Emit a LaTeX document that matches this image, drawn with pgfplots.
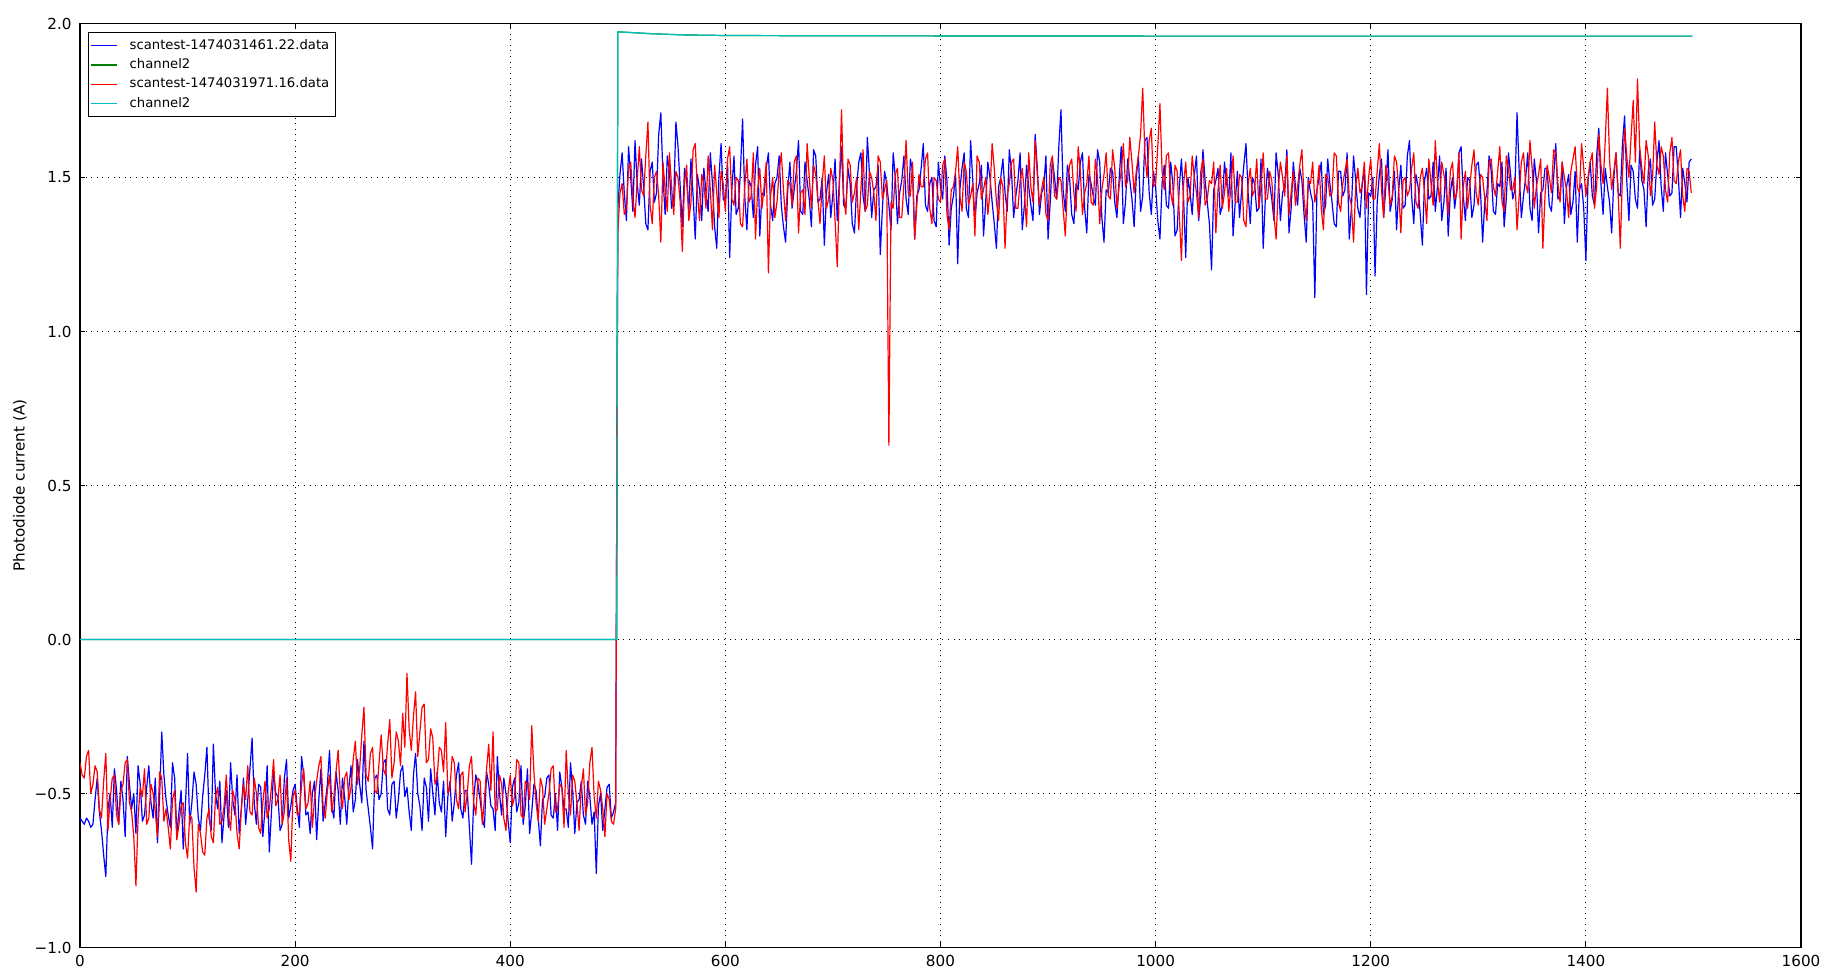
\documentclass[border=0pt]{standalone}
\usepackage{fontspec}
\setmainfont{DejaVu Sans}
\usepackage{pgfplots}
\pgfplotsset{compat=1.18}
\definecolor{mplblue}{rgb}{0,0,1}
\definecolor{mplgreen}{rgb}{0,0.5,0}
\definecolor{mplred}{rgb}{1,0,0}
\definecolor{mplcyan}{rgb}{0,0.75,0.75}
\newcommand{\tickfont}{\fontsize{7.6}{9}\selectfont}
\begin{document}
\begin{tikzpicture}
\begin{axis}[
  scale only axis, width=860.5pt, height=462pt,
  xmin=0, xmax=1600, ymin=-1, ymax=2,
  xtick={0,200,400,600,800,1000,1200,1400,1600},
  xticklabels={0,200,400,600,800,1000,1200,1400,1600},
  ytick={-1,-0.5,0,0.5,1,1.5,2},
  yticklabels={−1.0,−0.5,0.0,0.5,1.0,1.5,2.0},
  tick align=inside, major tick length=2.5pt,
  tick style={black, line width=0.5pt},
  axis line style={black, line width=0.6pt},
  grid=major,
  major grid style={black, line width=0.4pt, dash pattern=on 0.5pt off 2.3pt},
  xticklabel style={font=\tickfont, inner sep=0pt, yshift=-3.5pt},
  yticklabel style={font=\tickfont, inner sep=0pt, xshift=-4pt},
  ylabel={Photodiode current (A)},
  every axis y label/.style={at={(axis description cs:-0.0349,0.5)}, anchor=center, rotate=90, font=\tickfont},
  legend style={at={(rel axis cs:0,1)}, anchor=north west, xshift=4pt, yshift=-4.5pt,
    draw=black, line width=0.5pt, font=\fontsize{6.6}{7.9}\selectfont, inner xsep=1pt, inner ysep=1.5pt,
    row sep=0pt, nodes={text height=5pt, text depth=1.5pt, inner ysep=1.6pt}},
  legend cell align=left,
  legend image code/.code={\draw[#1, line width=0.6pt] (0pt,0pt) -- (13pt,0pt); \path (17pt,0pt);},
  legend entries={scantest-1474031461.22.data, channel2, scantest-1474031971.16.data, channel2},
  every axis plot/.append style={line width=0.6pt, line join=round, mark=none},
]
% blue: scantest-1474031461.22.data (every 2nd sample)
\addplot[color=mplblue] table[row sep=\\, header=false, x expr=\coordindex*2, y index=0] {
-0.58\\ -0.59\\ -0.60\\ -0.58\\ -0.59\\ -0.61\\ -0.60\\ -0.52\\ -0.45\\ -0.56\\
-0.62\\ -0.70\\ -0.77\\ -0.55\\ -0.50\\ -0.61\\ -0.42\\ -0.49\\ -0.60\\ -0.46\\
-0.52\\ -0.64\\ -0.38\\ -0.47\\ -0.55\\ -0.50\\ -0.63\\ -0.41\\ -0.47\\ -0.59\\
-0.57\\ -0.48\\ -0.41\\ -0.53\\ -0.58\\ -0.45\\ -0.66\\ -0.51\\ -0.30\\ -0.44\\
-0.52\\ -0.57\\ -0.61\\ -0.40\\ -0.45\\ -0.63\\ -0.56\\ -0.49\\ -0.68\\ -0.54\\
-0.37\\ -0.60\\ -0.53\\ -0.43\\ -0.47\\ -0.58\\ -0.62\\ -0.51\\ -0.44\\ -0.35\\
-0.58\\ -0.62\\ -0.34\\ -0.50\\ -0.55\\ -0.46\\ -0.66\\ -0.57\\ -0.49\\ -0.61\\
-0.40\\ -0.52\\ -0.57\\ -0.44\\ -0.63\\ -0.55\\ -0.45\\ -0.60\\ -0.52\\ -0.42\\
-0.32\\ -0.53\\ -0.60\\ -0.47\\ -0.48\\ -0.64\\ -0.55\\ -0.41\\ -0.69\\ -0.56\\
-0.43\\ -0.50\\ -0.51\\ -0.62\\ -0.60\\ -0.45\\ -0.39\\ -0.58\\ -0.54\\ -0.49\\
-0.47\\ -0.55\\ -0.61\\ -0.38\\ -0.44\\ -0.57\\ -0.56\\ -0.63\\ -0.50\\ -0.46\\
-0.65\\ -0.52\\ -0.42\\ -0.59\\ -0.53\\ -0.47\\ -0.36\\ -0.54\\ -0.58\\ -0.43\\
-0.49\\ -0.60\\ -0.45\\ -0.51\\ -0.60\\ -0.48\\ -0.41\\ -0.56\\ -0.52\\ -0.39\\
-0.47\\ -0.53\\ -0.33\\ -0.49\\ -0.55\\ -0.61\\ -0.68\\ -0.45\\ -0.44\\ -0.52\\
-0.50\\ -0.40\\ -0.39\\ -0.55\\ -0.57\\ -0.47\\ -0.46\\ -0.58\\ -0.52\\ -0.43\\
-0.41\\ -0.51\\ -0.48\\ -0.56\\ -0.62\\ -0.44\\ -0.37\\ -0.50\\ -0.54\\ -0.62\\
-0.45\\ -0.48\\ -0.59\\ -0.42\\ -0.50\\ -0.57\\ -0.43\\ -0.53\\ -0.56\\ -0.46\\
-0.64\\ -0.51\\ -0.46\\ -0.59\\ -0.53\\ -0.44\\ -0.40\\ -0.55\\ -0.58\\ -0.49\\
-0.49\\ -0.61\\ -0.73\\ -0.52\\ -0.44\\ -0.47\\ -0.52\\ -0.58\\ -0.61\\ -0.43\\
-0.47\\ -0.54\\ -0.55\\ -0.62\\ -0.38\\ -0.50\\ -0.57\\ -0.45\\ -0.50\\ -0.59\\
-0.66\\ -0.48\\ -0.45\\ -0.56\\ -0.53\\ -0.41\\ -0.60\\ -0.54\\ -0.42\\ -0.63\\
-0.56\\ -0.47\\ -0.49\\ -0.58\\ -0.67\\ -0.52\\ -0.51\\ -0.45\\ -0.44\\ -0.57\\
-0.58\\ -0.50\\ -0.62\\ -0.43\\ -0.48\\ -0.55\\ -0.55\\ -0.61\\ -0.40\\ -0.49\\
-0.63\\ -0.53\\ -0.52\\ -0.46\\ -0.57\\ -0.60\\ -0.46\\ -0.51\\ -0.60\\ -0.56\\
-0.76\\ -0.54\\ -0.50\\ -0.62\\ -0.55\\ -0.48\\ -0.47\\ -0.58\\ -0.56\\ -0.53\\
1.40\\ 1.51\\ 1.58\\ 1.45\\ 1.36\\ 1.60\\ 1.50\\ 1.39\\ 1.62\\ 1.48\\
1.41\\ 1.56\\ 1.47\\ 1.35\\ 1.33\\ 1.52\\ 1.55\\ 1.42\\ 1.45\\ 1.64\\
1.71\\ 1.50\\ 1.38\\ 1.57\\ 1.52\\ 1.40\\ 1.43\\ 1.68\\ 1.60\\ 1.47\\
1.34\\ 1.53\\ 1.49\\ 1.39\\ 1.56\\ 1.44\\ 1.30\\ 1.51\\ 1.46\\ 1.36\\
1.53\\ 1.45\\ 1.39\\ 1.58\\ 1.48\\ 1.34\\ 1.27\\ 1.50\\ 1.61\\ 1.43\\
1.42\\ 1.55\\ 1.24\\ 1.46\\ 1.57\\ 1.38\\ 1.40\\ 1.52\\ 1.69\\ 1.44\\
1.33\\ 1.49\\ 1.47\\ 1.37\\ 1.54\\ 1.60\\ 1.31\\ 1.45\\ 1.44\\ 1.53\\
1.58\\ 1.41\\ 1.36\\ 1.48\\ 1.50\\ 1.57\\ 1.41\\ 1.34\\ 1.29\\ 1.46\\
1.55\\ 1.40\\ 1.46\\ 1.52\\ 1.62\\ 1.39\\ 1.38\\ 1.55\\ 1.49\\ 1.43\\
1.34\\ 1.59\\ 1.57\\ 1.42\\ 1.43\\ 1.50\\ 1.28\\ 1.45\\ 1.51\\ 1.37\\
1.45\\ 1.56\\ 1.36\\ 1.49\\ 1.60\\ 1.41\\ 1.40\\ 1.53\\ 1.48\\ 1.35\\
1.32\\ 1.47\\ 1.55\\ 1.58\\ 1.44\\ 1.39\\ 1.63\\ 1.51\\ 1.37\\ 1.46\\
1.47\\ 1.54\\ 1.25\\ 1.40\\ 1.52\\ 1.48\\ 1.41\\ 1.33\\ 1.58\\ 1.50\\
1.35\\ 1.45\\ 1.49\\ 1.57\\ 1.43\\ 1.38\\ 1.56\\ 1.52\\ 1.30\\ 1.44\\
1.46\\ 1.53\\ 1.61\\ 1.41\\ 1.39\\ 1.48\\ 1.50\\ 1.36\\ 1.34\\ 1.55\\
1.47\\ 1.43\\ 1.57\\ 1.49\\ 1.28\\ 1.40\\ 1.44\\ 1.51\\ 1.22\\ 1.46\\
1.53\\ 1.58\\ 1.40\\ 1.37\\ 1.62\\ 1.49\\ 1.36\\ 1.45\\ 1.48\\ 1.54\\
1.31\\ 1.42\\ 1.55\\ 1.50\\ 1.42\\ 1.35\\ 1.27\\ 1.47\\ 1.50\\ 1.56\\
1.45\\ 1.39\\ 1.59\\ 1.52\\ 1.37\\ 1.44\\ 1.49\\ 1.58\\ 1.33\\ 1.41\\
1.54\\ 1.47\\ 1.41\\ 1.36\\ 1.64\\ 1.53\\ 1.38\\ 1.45\\ 1.47\\ 1.57\\
1.30\\ 1.42\\ 1.56\\ 1.50\\ 1.43\\ 1.60\\ 1.72\\ 1.46\\ 1.39\\ 1.54\\
1.50\\ 1.38\\ 1.35\\ 1.48\\ 1.46\\ 1.55\\ 1.58\\ 1.40\\ 1.32\\ 1.51\\
1.48\\ 1.44\\ 1.41\\ 1.59\\ 1.55\\ 1.37\\ 1.29\\ 1.46\\ 1.45\\ 1.53\\
1.52\\ 1.42\\ 1.37\\ 1.49\\ 1.60\\ 1.35\\ 1.42\\ 1.56\\ 1.49\\ 1.43\\
1.34\\ 1.50\\ 1.57\\ 1.39\\ 1.44\\ 1.62\\ 1.63\\ 1.45\\ 1.38\\ 1.52\\
1.47\\ 1.36\\ 1.30\\ 1.48\\ 1.54\\ 1.41\\ 1.40\\ 1.55\\ 1.48\\ 1.31\\
1.33\\ 1.47\\ 1.56\\ 1.43\\ 1.24\\ 1.50\\ 1.45\\ 1.38\\ 1.51\\ 1.57\\
1.36\\ 1.44\\ 1.59\\ 1.49\\ 1.42\\ 1.35\\ 1.20\\ 1.46\\ 1.49\\ 1.53\\
1.38\\ 1.41\\ 1.55\\ 1.48\\ 1.44\\ 1.58\\ 1.31\\ 1.42\\ 1.52\\ 1.37\\
1.46\\ 1.54\\ 1.61\\ 1.45\\ 1.35\\ 1.50\\ 1.48\\ 1.39\\ 1.40\\ 1.56\\
1.27\\ 1.43\\ 1.53\\ 1.48\\ 1.43\\ 1.36\\ 1.58\\ 1.51\\ 1.36\\ 1.45\\
1.47\\ 1.59\\ 1.32\\ 1.40\\ 1.55\\ 1.47\\ 1.41\\ 1.53\\ 1.49\\ 1.38\\
1.29\\ 1.50\\ 1.45\\ 1.42\\ 1.11\\ 1.46\\ 1.50\\ 1.55\\ 1.38\\ 1.41\\
1.56\\ 1.48\\ 1.42\\ 1.35\\ 1.34\\ 1.52\\ 1.52\\ 1.44\\ 1.46\\ 1.58\\
1.30\\ 1.40\\ 1.57\\ 1.49\\ 1.40\\ 1.37\\ 1.48\\ 1.53\\ 1.12\\ 1.45\\
1.44\\ 1.50\\ 1.18\\ 1.42\\ 1.51\\ 1.56\\ 1.37\\ 1.47\\ 1.59\\ 1.39\\
1.43\\ 1.52\\ 1.33\\ 1.46\\ 1.54\\ 1.40\\ 1.41\\ 1.57\\ 1.62\\ 1.44\\
1.35\\ 1.51\\ 1.47\\ 1.38\\ 1.28\\ 1.49\\ 1.53\\ 1.43\\ 1.44\\ 1.55\\
1.39\\ 1.47\\ 1.57\\ 1.36\\ 1.42\\ 1.53\\ 1.31\\ 1.45\\ 1.50\\ 1.40\\
1.46\\ 1.58\\ 1.60\\ 1.44\\ 1.36\\ 1.50\\ 1.49\\ 1.37\\ 1.41\\ 1.54\\
1.55\\ 1.46\\ 1.29\\ 1.42\\ 1.45\\ 1.57\\ 1.52\\ 1.39\\ 1.38\\ 1.48\\
1.47\\ 1.55\\ 1.34\\ 1.43\\ 1.58\\ 1.51\\ 1.43\\ 1.46\\ 1.71\\ 1.52\\
1.37\\ 1.44\\ 1.50\\ 1.58\\ 1.40\\ 1.36\\ 1.56\\ 1.49\\ 1.32\\ 1.45\\
1.46\\ 1.53\\ 1.53\\ 1.41\\ 1.39\\ 1.50\\ 1.61\\ 1.43\\ 1.44\\ 1.55\\
1.35\\ 1.47\\ 1.51\\ 1.38\\ 1.42\\ 1.52\\ 1.29\\ 1.46\\ 1.48\\ 1.40\\
1.23\\ 1.49\\ 1.55\\ 1.44\\ 1.41\\ 1.57\\ 1.66\\ 1.48\\ 1.38\\ 1.53\\
1.47\\ 1.42\\ 1.32\\ 1.50\\ 1.58\\ 1.45\\ 1.44\\ 1.61\\ 1.70\\ 1.49\\
1.36\\ 1.54\\ 1.52\\ 1.43\\ 1.40\\ 1.59\\ 1.49\\ 1.46\\ 1.34\\ 1.52\\
1.56\\ 1.41\\ 1.43\\ 1.55\\ 1.62\\ 1.47\\ 1.39\\ 1.58\\ 1.51\\ 1.44\\
1.45\\ 1.60\\ 1.60\\ 1.50\\ 1.37\\ 1.53\\ 1.48\\ 1.42\\ 1.55\\ 1.56\\
};
% green: channel2
\addplot[color=mplgreen] coordinates {(0,0) (499,0) (500,1.973) (510,1.971) (530,1.967) (560,1.963) (600,1.961) (700,1.960) (1000,1.959) (1499,1.959)};
% red: scantest-1474031971.16.data (every 2nd sample)
\addplot[color=mplred] table[row sep=\\, header=false, x expr=\coordindex*2, y index=0] {
-0.40\\ -0.44\\ -0.45\\ -0.38\\ -0.36\\ -0.50\\ -0.47\\ -0.41\\ -0.43\\ -0.55\\
-0.58\\ -0.46\\ -0.37\\ -0.62\\ -0.52\\ -0.45\\ -0.44\\ -0.57\\ -0.60\\ -0.49\\
-0.47\\ -0.40\\ -0.39\\ -0.53\\ -0.56\\ -0.64\\ -0.80\\ -0.58\\ -0.48\\ -0.51\\
-0.42\\ -0.60\\ -0.58\\ -0.47\\ -0.50\\ -0.56\\ -0.64\\ -0.43\\ -0.45\\ -0.59\\
-0.55\\ -0.61\\ -0.68\\ -0.52\\ -0.49\\ -0.65\\ -0.60\\ -0.54\\ -0.53\\ -0.66\\
-0.71\\ -0.57\\ -0.58\\ -0.74\\ -0.82\\ -0.60\\ -0.63\\ -0.69\\ -0.70\\ -0.58\\
-0.55\\ -0.64\\ -0.66\\ -0.51\\ -0.48\\ -0.60\\ -0.59\\ -0.54\\ -0.44\\ -0.57\\
-0.62\\ -0.49\\ -0.52\\ -0.63\\ -0.68\\ -0.55\\ -0.47\\ -0.52\\ -0.41\\ -0.56\\
-0.57\\ -0.45\\ -0.50\\ -0.61\\ -0.63\\ -0.53\\ -0.46\\ -0.58\\ -0.55\\ -0.48\\
-0.39\\ -0.54\\ -0.52\\ -0.44\\ -0.60\\ -0.56\\ -0.45\\ -0.65\\ -0.72\\ -0.51\\
-0.49\\ -0.57\\ -0.56\\ -0.47\\ -0.42\\ -0.55\\ -0.53\\ -0.46\\ -0.61\\ -0.52\\
-0.46\\ -0.41\\ -0.38\\ -0.54\\ -0.58\\ -0.49\\ -0.44\\ -0.56\\ -0.51\\ -0.43\\
-0.36\\ -0.50\\ -0.55\\ -0.45\\ -0.43\\ -0.52\\ -0.48\\ -0.39\\ -0.33\\ -0.47\\
-0.42\\ -0.31\\ -0.22\\ -0.44\\ -0.46\\ -0.37\\ -0.35\\ -0.49\\ -0.50\\ -0.40\\
-0.31\\ -0.42\\ -0.44\\ -0.34\\ -0.26\\ -0.45\\ -0.40\\ -0.30\\ -0.33\\ -0.41\\
-0.24\\ -0.35\\ -0.11\\ -0.29\\ -0.36\\ -0.25\\ -0.17\\ -0.38\\ -0.30\\ -0.22\\
-0.21\\ -0.40\\ -0.39\\ -0.29\\ -0.32\\ -0.47\\ -0.45\\ -0.35\\ -0.36\\ -0.43\\
-0.27\\ -0.50\\ -0.48\\ -0.38\\ -0.40\\ -0.52\\ -0.55\\ -0.44\\ -0.43\\ -0.56\\
-0.50\\ -0.41\\ -0.38\\ -0.53\\ -0.57\\ -0.45\\ -0.46\\ -0.60\\ -0.52\\ -0.42\\
-0.34\\ -0.49\\ -0.30\\ -0.56\\ -0.55\\ -0.44\\ -0.47\\ -0.58\\ -0.62\\ -0.50\\
-0.44\\ -0.54\\ -0.51\\ -0.39\\ -0.40\\ -0.57\\ -0.58\\ -0.46\\ -0.47\\ -0.52\\
-0.28\\ -0.43\\ -0.53\\ -0.59\\ -0.45\\ -0.48\\ -0.60\\ -0.55\\ -0.50\\ -0.42\\
-0.41\\ -0.56\\ -0.55\\ -0.47\\ -0.48\\ -0.61\\ -0.36\\ -0.50\\ -0.57\\ -0.44\\
-0.46\\ -0.53\\ -0.62\\ -0.48\\ -0.42\\ -0.57\\ -0.53\\ -0.40\\ -0.35\\ -0.51\\
-0.58\\ -0.46\\ -0.49\\ -0.55\\ -0.64\\ -0.50\\ -0.52\\ -0.59\\ -0.60\\ -0.55\\
1.32\\ 1.45\\ 1.48\\ 1.38\\ 1.40\\ 1.53\\ 1.55\\ 1.43\\ 1.37\\ 1.49\\
1.60\\ 1.46\\ 1.44\\ 1.57\\ 1.68\\ 1.41\\ 1.35\\ 1.50\\ 1.52\\ 1.44\\
1.29\\ 1.55\\ 1.46\\ 1.39\\ 1.58\\ 1.47\\ 1.38\\ 1.52\\ 1.50\\ 1.42\\
1.26\\ 1.48\\ 1.54\\ 1.36\\ 1.42\\ 1.59\\ 1.61\\ 1.45\\ 1.36\\ 1.51\\
1.48\\ 1.40\\ 1.57\\ 1.46\\ 1.33\\ 1.54\\ 1.45\\ 1.37\\ 1.52\\ 1.48\\
1.39\\ 1.56\\ 1.60\\ 1.43\\ 1.41\\ 1.50\\ 1.49\\ 1.35\\ 1.34\\ 1.47\\
1.56\\ 1.42\\ 1.44\\ 1.58\\ 1.30\\ 1.46\\ 1.53\\ 1.40\\ 1.47\\ 1.55\\
1.19\\ 1.44\\ 1.50\\ 1.37\\ 1.42\\ 1.52\\ 1.58\\ 1.46\\ 1.36\\ 1.49\\
1.48\\ 1.41\\ 1.55\\ 1.57\\ 1.32\\ 1.45\\ 1.46\\ 1.38\\ 1.61\\ 1.50\\
1.40\\ 1.54\\ 1.51\\ 1.43\\ 1.35\\ 1.48\\ 1.57\\ 1.40\\ 1.43\\ 1.53\\
1.49\\ 1.36\\ 1.21\\ 1.47\\ 1.72\\ 1.44\\ 1.38\\ 1.56\\ 1.54\\ 1.42\\
1.45\\ 1.50\\ 1.33\\ 1.46\\ 1.59\\ 1.39\\ 1.41\\ 1.52\\ 1.50\\ 1.45\\
1.36\\ 1.57\\ 1.55\\ 1.43\\ 1.46\\ 1.49\\ 0.63\\ 1.42\\ 1.40\\ 1.51\\
1.53\\ 1.37\\ 1.37\\ 1.48\\ 1.62\\ 1.45\\ 1.44\\ 1.55\\ 1.30\\ 1.41\\
1.51\\ 1.47\\ 1.47\\ 1.56\\ 1.58\\ 1.40\\ 1.35\\ 1.50\\ 1.49\\ 1.43\\
1.42\\ 1.54\\ 1.56\\ 1.38\\ 1.33\\ 1.46\\ 1.47\\ 1.52\\ 1.60\\ 1.44\\
1.39\\ 1.55\\ 1.52\\ 1.41\\ 1.44\\ 1.48\\ 1.31\\ 1.57\\ 1.55\\ 1.43\\
1.46\\ 1.50\\ 1.38\\ 1.45\\ 1.61\\ 1.53\\ 1.42\\ 1.36\\ 1.50\\ 1.47\\
1.27\\ 1.44\\ 1.48\\ 1.55\\ 1.56\\ 1.40\\ 1.40\\ 1.49\\ 1.53\\ 1.45\\
1.34\\ 1.58\\ 1.47\\ 1.42\\ 1.62\\ 1.51\\ 1.41\\ 1.46\\ 1.50\\ 1.38\\
1.36\\ 1.54\\ 1.57\\ 1.44\\ 1.43\\ 1.50\\ 1.49\\ 1.40\\ 1.31\\ 1.47\\
1.54\\ 1.56\\ 1.45\\ 1.39\\ 1.60\\ 1.52\\ 1.38\\ 1.45\\ 1.48\\ 1.57\\
1.42\\ 1.41\\ 1.56\\ 1.50\\ 1.35\\ 1.46\\ 1.51\\ 1.58\\ 1.44\\ 1.43\\
1.59\\ 1.53\\ 1.40\\ 1.47\\ 1.52\\ 1.61\\ 1.47\\ 1.49\\ 1.63\\ 1.55\\
1.45\\ 1.52\\ 1.57\\ 1.64\\ 1.79\\ 1.58\\ 1.50\\ 1.62\\ 1.66\\ 1.47\\
1.48\\ 1.60\\ 1.74\\ 1.52\\ 1.46\\ 1.57\\ 1.58\\ 1.45\\ 1.41\\ 1.54\\
1.52\\ 1.38\\ 1.23\\ 1.48\\ 1.55\\ 1.42\\ 1.44\\ 1.57\\ 1.50\\ 1.45\\
1.37\\ 1.52\\ 1.56\\ 1.41\\ 1.43\\ 1.49\\ 1.48\\ 1.55\\ 1.32\\ 1.46\\
1.54\\ 1.40\\ 1.45\\ 1.53\\ 1.39\\ 1.47\\ 1.57\\ 1.42\\ 1.42\\ 1.51\\
1.50\\ 1.36\\ 1.34\\ 1.48\\ 1.53\\ 1.44\\ 1.46\\ 1.56\\ 1.40\\ 1.47\\
1.58\\ 1.43\\ 1.43\\ 1.52\\ 1.49\\ 1.38\\ 1.30\\ 1.46\\ 1.55\\ 1.50\\
1.44\\ 1.57\\ 1.38\\ 1.45\\ 1.52\\ 1.41\\ 1.47\\ 1.54\\ 1.59\\ 1.43\\
1.36\\ 1.49\\ 1.48\\ 1.55\\ 1.42\\ 1.46\\ 1.54\\ 1.40\\ 1.33\\ 1.51\\
1.50\\ 1.44\\ 1.45\\ 1.58\\ 1.57\\ 1.42\\ 1.39\\ 1.48\\ 1.52\\ 1.56\\
1.44\\ 1.41\\ 1.29\\ 1.47\\ 1.53\\ 1.45\\ 1.47\\ 1.55\\ 1.40\\ 1.50\\
1.56\\ 1.43\\ 1.43\\ 1.52\\ 1.61\\ 1.46\\ 1.37\\ 1.54\\ 1.49\\ 1.41\\
1.44\\ 1.57\\ 1.55\\ 1.46\\ 1.32\\ 1.49\\ 1.50\\ 1.44\\ 1.46\\ 1.53\\
1.58\\ 1.42\\ 1.40\\ 1.50\\ 1.53\\ 1.45\\ 1.35\\ 1.56\\ 1.48\\ 1.41\\
1.62\\ 1.49\\ 1.42\\ 1.55\\ 1.51\\ 1.46\\ 1.38\\ 1.52\\ 1.55\\ 1.43\\
1.45\\ 1.58\\ 1.30\\ 1.47\\ 1.52\\ 1.40\\ 1.47\\ 1.54\\ 1.59\\ 1.45\\
1.41\\ 1.51\\ 1.50\\ 1.43\\ 1.36\\ 1.55\\ 1.56\\ 1.47\\ 1.44\\ 1.52\\
1.60\\ 1.42\\ 1.39\\ 1.57\\ 1.53\\ 1.46\\ 1.46\\ 1.50\\ 1.33\\ 1.44\\
1.55\\ 1.58\\ 1.48\\ 1.45\\ 1.62\\ 1.53\\ 1.40\\ 1.47\\ 1.51\\ 1.56\\
1.27\\ 1.44\\ 1.54\\ 1.50\\ 1.45\\ 1.59\\ 1.58\\ 1.48\\ 1.42\\ 1.55\\
1.50\\ 1.46\\ 1.37\\ 1.52\\ 1.56\\ 1.60\\ 1.47\\ 1.45\\ 1.61\\ 1.53\\
1.44\\ 1.50\\ 1.55\\ 1.58\\ 1.40\\ 1.47\\ 1.64\\ 1.54\\ 1.48\\ 1.62\\
1.79\\ 1.56\\ 1.46\\ 1.52\\ 1.58\\ 1.45\\ 1.27\\ 1.51\\ 1.66\\ 1.57\\
1.50\\ 1.63\\ 1.75\\ 1.55\\ 1.82\\ 1.60\\ 1.53\\ 1.48\\ 1.62\\ 1.57\\
1.44\\ 1.50\\ 1.68\\ 1.54\\ 1.51\\ 1.60\\ 1.57\\ 1.46\\ 1.42\\ 1.58\\
1.63\\ 1.49\\ 1.48\\ 1.55\\ 1.59\\ 1.44\\ 1.39\\ 1.53\\ 1.52\\ 1.45\\
};
% cyan: channel2
\addplot[color=mplcyan] coordinates {(0,0) (499,0) (500,1.973) (510,1.971) (530,1.967) (560,1.963) (600,1.961) (700,1.960) (1000,1.959) (1499,1.959)};
\node[anchor=south west, inner sep=0pt, font=\tickfont] at (rel axis cs:0,1) [yshift=1.3pt] {1e−12};
\end{axis}
\pgfresetboundingbox
\path[use as bounding box] ([shift={(-40pt,-12.25pt)}]current axis.south west) rectangle ([shift={(21pt,11.75pt)}]current axis.north east);
\end{tikzpicture}
\end{document}
